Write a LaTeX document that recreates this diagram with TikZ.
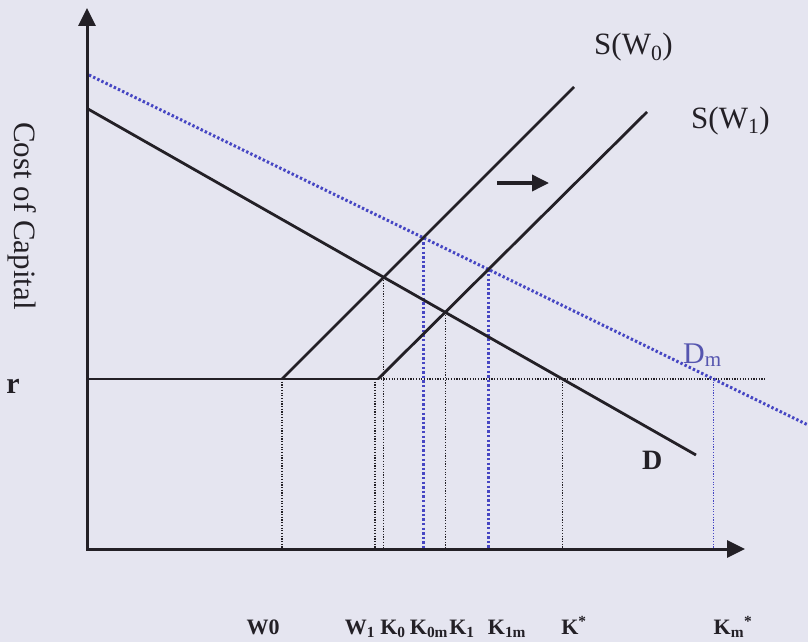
\documentclass[tikz,border=0pt]{standalone}
\usepackage{fontspec}
\setmainfont{Liberation Serif}
\usetikzlibrary{arrows.meta}
\definecolor{bg}{RGB}{229,229,240}
\definecolor{ink}{RGB}{35,32,38}
\definecolor{dblue}{RGB}{70,70,195}
\definecolor{lblue}{RGB}{85,85,175}
\begin{document}
\begin{tikzpicture}[x=1pt,y=-1pt,
  axis/.style={ink, line width=3pt, line join=miter, {Triangle[length=18pt,width=17pt]}-{Triangle[length=18pt,width=17pt]}},
  curve/.style={ink, line width=2.8pt},
  bdot/.style={ink, line width=1.4pt, dash pattern=on 1.2pt off 1.5pt},
  udot/.style={dblue, line width=3pt, dash pattern=on 2.4pt off 2.2pt},
  uthin/.style={dblue, line width=1.4pt, dash pattern=on 1.2pt off 1.5pt},
  lab/.style={font=\fontsize{31}{36}\selectfont, text=ink, inner sep=0pt},
  ticklab/.style={font=\bfseries\fontsize{22}{26}\selectfont, text=ink, inner sep=0pt, anchor=base}]
\fill[bg] (0,0) rectangle (808,642);
\useasboundingbox (0,0) rectangle (808,642);
% key points
\coordinate (O) at (87,549);
\coordinate (ytip) at (87,8);
\coordinate (xtip) at (745,549);
\coordinate (D1) at (88,109);
\coordinate (D2) at (696,455);
\coordinate (M1) at (89,75);
\coordinate (M2) at (808,425);
\coordinate (S0a) at (282,379);
\coordinate (S0b) at (574,87);
\coordinate (S1a) at (378,379);
\coordinate (S1b) at (647,112);
\coordinate (R0) at (87,379);
\coordinate (Rend) at (766,379);
\coordinate (W1) at (375,379);
\coordinate (A1) at (497,183);
\coordinate (A2) at (549,183);
\coordinate (K0) at (intersection of S0a--S0b and D1--D2);
\coordinate (K0m) at (intersection of S0a--S0b and M1--M2);
\coordinate (K1) at (intersection of S1a--S1b and D1--D2);
\coordinate (K1m) at (intersection of S1a--S1b and M1--M2);
\coordinate (Kst) at (intersection of D1--D2 and R0--Rend);
\coordinate (Kms) at (intersection of M1--M2 and R0--Rend);
% vertical guides
\draw[bdot] (S0a) -- (S0a |- O);
\draw[bdot] (W1) -- (W1 |- O);
\draw[bdot] (K0) -- (K0 |- O);
\draw[bdot] (K1) -- (K1 |- O);
\draw[bdot] (Kst) -- (Kst |- O);
\draw[udot] (K0m) -- (K0m |- O);
\draw[udot] (K1m) -- (K1m |- O);
\draw[uthin] (Kms) -- (Kms |- O);
% r line
\draw[bdot] (S1a) -- (Rend);
\draw[curve] (R0) -- (S1a);
% curves
\draw[udot] (M1) -- (M2);
\draw[curve] (D1) -- (D2);
\draw[curve] (S0a) -- (S0b);
\draw[curve] (S1a) -- (S1b);
% axes
\draw[axis] (ytip) -- (O) -- (xtip);
% shift arrow
\draw[ink, line width=3.6pt, -{Triangle[length=17pt,width=16pt]}] (A1) -- (A2);
% labels
\node[lab, anchor=base west] (lsw0) at (594,55) {S(W\textsubscript{0})};
\node[lab, anchor=base west] (lsw1) at (691,128) {S(W\textsubscript{1})};
\node[lab, anchor=base west, text=lblue, font=\fontsize{30}{34}\selectfont] (ldm) at (683,363) {D\textsubscript{m}};
\node[lab, anchor=base west, font=\bfseries\fontsize{28}{34}\selectfont] (ld) at (642,469) {D};
\node[lab, anchor=base, font=\bfseries\fontsize{30}{34}\selectfont] (lr) at (13,393) {r};
\node[lab, rotate=-90] (lcost) at (22,216) {Cost of Capital};
\node[ticklab] (tw0) at (263,634) {W0};
\node[ticklab] (tw1) at (360,634) {W\textsubscript{1}};
\node[ticklab] (tk0) at (393,634) {K\textsubscript{0}};
\node[ticklab] (tk0m) at (429,634) {K\textsubscript{0m}};
\node[ticklab] (tk1) at (462,634) {K\textsubscript{1}};
\node[ticklab] (tk1m) at (507,634) {K\textsubscript{1m}};
\node[ticklab] (tks) at (574,634) {K\textsuperscript{*}};
\node[ticklab] (tkms) at (733,634) {K\textsubscript{m}\textsuperscript{*}};
\end{tikzpicture}
\end{document}
